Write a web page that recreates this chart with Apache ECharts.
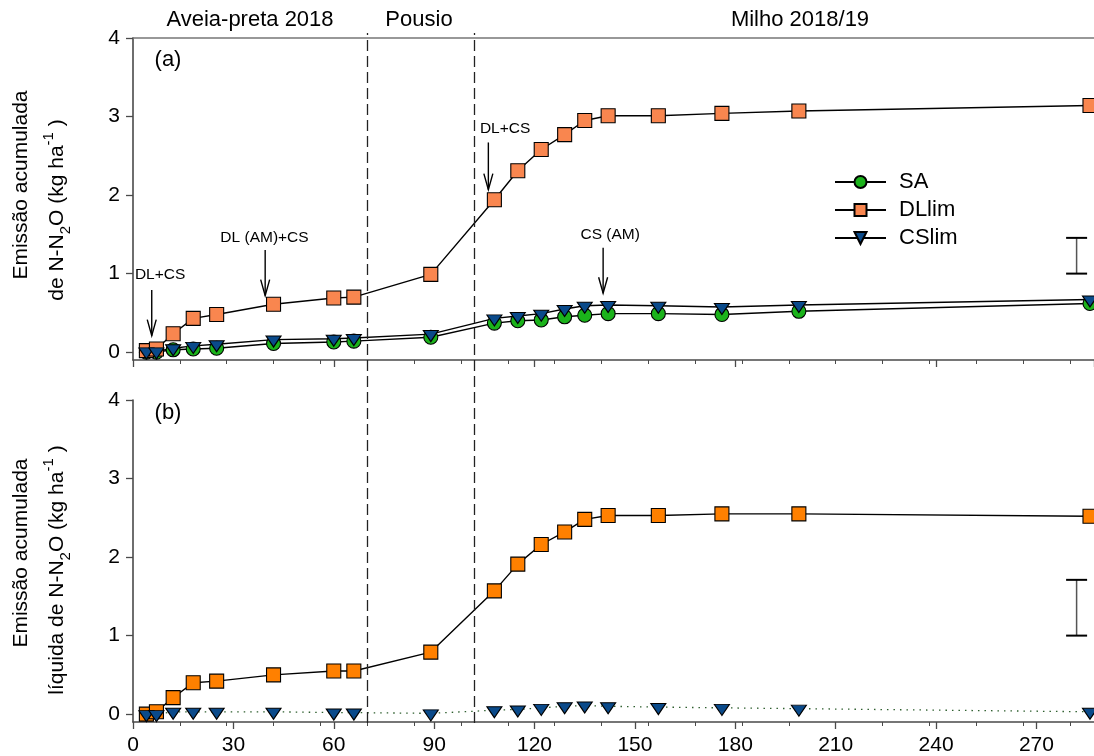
<!DOCTYPE html>
<html>
<head>
<meta charset="utf-8">
<script src="https://cdn.jsdelivr.net/npm/echarts@6/dist/echarts.min.js"></script>
<style>
html,body{margin:0;padding:0;background:#fff;}
#chart{width:1094px;height:756px;}
#err{position:absolute;left:0;top:0;font:11px monospace;white-space:pre-wrap;color:#c00;width:1090px;}
</style>
</head>
<body>
<div id="chart"></div>
<div id="err"></div>
<script>
// ---------- data ----------
const days = [4, 7, 12, 18, 25, 42, 60, 66, 89, 108, 115, 122, 129, 135, 142, 157, 176, 199, 286];
// panel (a) cumulative emission
const saTop = [0.00, 0.00, 0.03, 0.04, 0.05, 0.11, 0.13, 0.14, 0.19, 0.37, 0.40, 0.41, 0.45, 0.47, 0.49, 0.49, 0.48, 0.52, 0.62];
const dlTop = [0.02, 0.04, 0.235, 0.43, 0.48, 0.61, 0.69, 0.70, 0.99, 1.94, 2.31, 2.58, 2.77, 2.95, 3.01, 3.01, 3.04, 3.07, 3.14];
const csTop = [0.01, 0.01, 0.05, 0.08, 0.10, 0.16, 0.17, 0.18, 0.23, 0.43, 0.46, 0.49, 0.55, 0.59, 0.60, 0.59, 0.575, 0.60, 0.67];
// panel (b) net cumulative emission
const dlNet = [0.00, 0.03, 0.21, 0.40, 0.42, 0.50, 0.55, 0.55, 0.79, 1.57, 1.91, 2.16, 2.32, 2.48, 2.53, 2.53, 2.55, 2.55, 2.52];
const csNet = [0.00, 0.00, 0.03, 0.03, 0.03, 0.03, 0.02, 0.02, 0.01, 0.05, 0.06, 0.08, 0.10, 0.11, 0.10, 0.09, 0.08, 0.07, 0.03];

const seriesNames = ['SA', 'DLlim', 'CSlim'];
const yTicks = [0, 1, 2, 3, 4];
const phaseBounds = [70, 102];
const phaseNames = ['Aveia-preta 2018', 'Pousio', 'Milho 2018/19'];

// annotation arrows (panel a): arrow day, arrow top, arrow tip, text day, text value
const annLabels = ['DL+CS', 'DL (AM)+CS', 'DL+CS', 'CS (AM)'];
const annArrowDay = [5.6, 39.5, 106.2, 140.5];
const annArrowTop = [0.79, 1.30, 2.67, 1.33];
const annArrowTip = [0.21, 0.72, 2.07, 0.75];
const annTextDay = [8.1, 39.3, 111.2, 142.6];
const annTextVal = [0.98, 1.46, 2.84, 1.49];

// error bars (LSD): day, low, high
const errTop = [282, 1.0, 1.455];
const errNet = [282, 1.0, 1.71];

const X_MIN = 0, X_MAX = 287.2, Y_MIN = -0.1, Y_MAX = 4;

// ---------- styling ----------
const FONT = '"Liberation Sans", Arial, Helvetica, sans-serif';
const AX = '#4a4a4a';
const C_SA = '#1bb31b', C_DL = '#f9864f', C_DLN = '#ff8000', C_CS = '#0a4a8a';

const zip = (xs, ys) => xs.map((x, i) => [x, ys[i]]);

const chart = echarts.init(document.getElementById('chart'), null, {renderer: 'canvas'});

const xBase = {type: 'value', min: X_MIN, max: X_MAX, splitLine: {show: false}};
const yBase = {type: 'value', min: Y_MIN, max: Y_MAX, splitLine: {show: false}};

function lineSeries(name, xi, yi, vals, symbol, size, fill, lineStyle, extra) {
  return Object.assign({
    type: 'line', name: name, xAxisIndex: xi, yAxisIndex: yi,
    data: zip(days, vals), symbol: symbol, symbolSize: size,
    showAllSymbol: true, clip: false,
    itemStyle: {color: fill, borderColor: '#000', borderWidth: 1.1},
    lineStyle: lineStyle, animation: false
  }, extra || {});
}

const solid = {color: '#000', width: 1.4};
const triExtra = {symbolRotate: 180, symbolOffset: [0, 2]};

function errRender(params, api) {
  const x = api.value(0);
  const p1 = api.coord([x, api.value(1)]);
  const p2 = api.coord([x, api.value(2)]);
  const w = 10.5;
  return {type: 'group', children: [
    {type: 'line', shape: {x1: p1[0], y1: p1[1], x2: p2[0], y2: p2[1]}, style: {stroke: '#555', lineWidth: 1.5}},
    {type: 'line', shape: {x1: p1[0] - w, y1: p1[1], x2: p1[0] + w, y2: p1[1]}, style: {stroke: '#000', lineWidth: 2}},
    {type: 'line', shape: {x1: p2[0] - w, y1: p2[1], x2: p2[0] + w, y2: p2[1]}, style: {stroke: '#000', lineWidth: 2}}
  ]};
}

function annRender(params, api) {
  const i = params.dataIndex;
  const top = api.coord([api.value(0), api.value(1)]);
  const tip = api.coord([api.value(0), api.value(2)]);
  const txt = api.coord([api.value(3), api.value(4)]);
  return {type: 'group', children: [
    {type: 'line', shape: {x1: top[0], y1: top[1], x2: tip[0], y2: tip[1]}, style: {stroke: '#000', lineWidth: 1.4}},
    {type: 'polyline', shape: {points: [[tip[0] - 4.5, tip[1] - 16], [tip[0], tip[1]], [tip[0] + 4.5, tip[1] - 16]]},
      style: {stroke: '#000', fill: null, lineWidth: 1.4}},
    {type: 'text', x: txt[0], y: txt[1], style: {text: annLabels[i], fontSize: 15.5, fontFamily: FONT, fill: '#000', align: 'center', verticalAlign: 'middle'}}
  ]};
}

const annData = annLabels.map((_, i) => [annArrowDay[i], annArrowTop[i], annArrowTip[i], annTextDay[i], annTextVal[i]]);

const titleRich = {
  a: {fontSize: 21, fontFamily: FONT, lineHeight: 32, verticalAlign: 'middle', fill: '#000'},
  s: {fontSize: 15, fontFamily: FONT, lineHeight: 14, verticalAlign: 'bottom', fill: '#000'},
  p: {fontSize: 15, fontFamily: FONT, lineHeight: 12, verticalAlign: 'top', fill: '#000'}
};
function yTitle(x, y, str) {
  return {type: 'text', x: x, y: y, rotation: Math.PI / 2, silent: true,
    style: {text: str, rich: titleRich, align: 'center', verticalAlign: 'middle', fontSize: 21, fontFamily: FONT, fill: '#000'}};
}
function plainText(x, y, str, size) {
  return {type: 'text', x: x, y: y, silent: true,
    style: {text: str, fontSize: size, fontFamily: FONT, fill: '#000', align: 'center', verticalAlign: 'middle'}};
}

const option = {
  animation: false,
  backgroundColor: '#fff',
  textStyle: {fontFamily: FONT},
  grid: [
    {left: 133, right: 0, top: 38, height: 322},
    {left: 133, right: 0, top: 400, height: 322},
    {left: 133, right: 0, top: 33, height: 690},
    {left: 133, right: 0, top: 38, height: 322},
    {left: 133, right: 0, top: 400, height: 322}
  ],
  xAxis: [
    Object.assign({}, xBase, {gridIndex: 0, interval: 60,
      axisLine: {show: true, onZero: false, lineStyle: {color: AX, width: 1.6}},
      axisTick: {show: true, length: 7, lineStyle: {color: AX, width: 1.3}},
      axisLabel: {show: false}}),
    Object.assign({}, xBase, {gridIndex: 0, position: 'top',
      axisLine: {show: true, onZero: false, lineStyle: {color: '#777', width: 1.6}},
      axisTick: {show: false}, axisLabel: {show: false}}),
    Object.assign({}, xBase, {gridIndex: 1, interval: 30,
      axisLine: {show: true, onZero: false, lineStyle: {color: AX, width: 1.6}},
      axisTick: {show: true, length: 7, lineStyle: {color: AX, width: 1.3}},
      axisLabel: {show: true, fontSize: 21, fontFamily: FONT, color: '#000', margin: 13, showMaxLabel: false}}),
    Object.assign({}, xBase, {gridIndex: 2, show: false}),
    Object.assign({}, xBase, {gridIndex: 3, interval: 14,
      axisLine: {show: false, onZero: false}, axisTick: {show: true, length: 4, lineStyle: {color: AX, width: 1}},
      axisLabel: {show: false}}),
    Object.assign({}, xBase, {gridIndex: 4, interval: 14,
      axisLine: {show: false, onZero: false}, axisTick: {show: true, length: 4, lineStyle: {color: AX, width: 1}},
      axisLabel: {show: false}})
  ],
  yAxis: [
    Object.assign({}, yBase, {gridIndex: 0,
      axisLine: {show: true, onZero: false, lineStyle: {color: AX, width: 1.6}},
      axisTick: {show: true, length: 7, customValues: yTicks, lineStyle: {color: AX, width: 1.3}},
      axisLabel: {show: true, customValues: yTicks, fontSize: 21, fontFamily: FONT, color: '#000', margin: 13}}),
    Object.assign({}, yBase, {gridIndex: 1,
      axisLine: {show: true, onZero: false, lineStyle: {color: AX, width: 1.6}},
      axisTick: {show: true, length: 7, customValues: yTicks, lineStyle: {color: AX, width: 1.3}},
      axisLabel: {show: true, customValues: yTicks, fontSize: 21, fontFamily: FONT, color: '#000', margin: 13}}),
    {type: 'value', gridIndex: 2, show: false, min: 0, max: 1},
    {type: 'value', gridIndex: 3, show: false, min: 0, max: 1},
    {type: 'value', gridIndex: 4, show: false, min: 0, max: 1}
  ],
  legend: {
    data: seriesNames, orient: 'vertical', left: 829, top: 166,
    itemWidth: 51, itemHeight: 15, itemGap: 6, selectedMode: false,
    textStyle: {fontSize: 22, fontFamily: FONT, color: '#000', padding: [0, 0, 0, 8]}
  },
  graphic: [
    plainText(250, 20, phaseNames[0], 22),
    plainText(419, 20, phaseNames[1], 22),
    plainText(800, 20, phaseNames[2], 22),
    plainText(168, 60, '(a)', 22),
    plainText(168, 413, '(b)', 22),
    yTitle(21, 185, '{a|Emissão acumulada}'),
    yTitle(57, 210, '{a|de N-N}{s|2}{a|O (kg ha}{p|-1}{a| )}'),
    yTitle(21, 553, '{a|Emissão acumulada}'),
    yTitle(57, 570, '{a|líquida de N-N}{s|2}{a|O (kg ha}{p|-1}{a| )}')
  ],
  series: [
    // phase boundaries spanning both panels
    {type: 'line', xAxisIndex: 3, yAxisIndex: 2, data: [[-10, -10]], symbol: 'none', silent: true,
      markLine: {symbol: ['none', 'none'], silent: true, label: {show: false}, animation: false,
        lineStyle: {type: [11, 5], color: '#222', width: 1.3},
        data: phaseBounds.map(v => ({xAxis: v}))}},
    // panel (a)
    lineSeries('SA', 0, 0, saTop, 'circle', 14, C_SA, solid),
    lineSeries('DLlim', 0, 0, dlTop, 'rect', 14, C_DL, solid),
    lineSeries('CSlim', 0, 0, csTop, 'triangle', [15, 11], C_CS, solid, triExtra),
    // panel (b)
    lineSeries('DLlim', 2, 1, dlNet, 'rect', 14, C_DLN, solid),
    lineSeries('CSlim', 2, 1, csNet, 'triangle', [15, 11], C_CS, {color: '#2f5f2f', width: 1.3, type: [1.5, 5]}, triExtra),
    // annotations
    {type: 'custom', xAxisIndex: 0, yAxisIndex: 0, data: annData, renderItem: annRender, silent: true, z: 5,
      encode: {x: [0, 3], y: [1, 2, 4]}},
    // error bars
    {type: 'custom', xAxisIndex: 0, yAxisIndex: 0, data: [errTop], renderItem: errRender, silent: true,
      encode: {x: 0, y: [1, 2]}},
    {type: 'custom', xAxisIndex: 2, yAxisIndex: 1, data: [errNet], renderItem: errRender, silent: true,
      encode: {x: 0, y: [1, 2]}}
  ]
};

try {
  chart.setOption(option);
} catch (e) {
  document.getElementById('err').textContent = String(e && e.stack || e);
}
</script>
</body>
</html>
